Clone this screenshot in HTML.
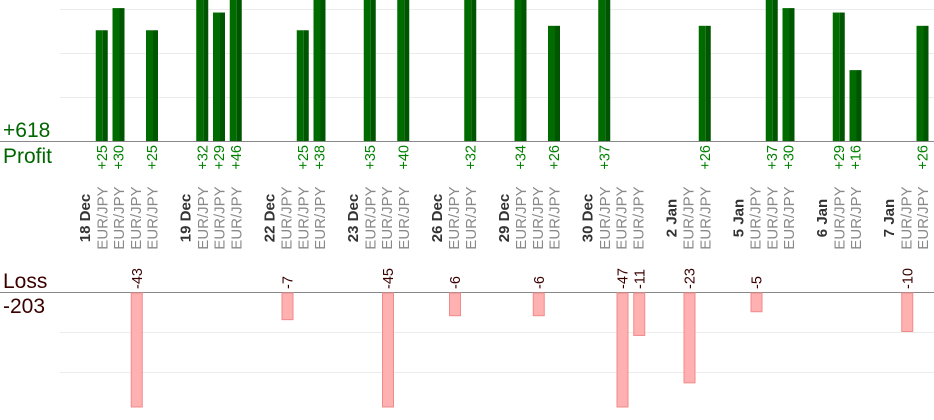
<!DOCTYPE html>
<html><head><meta charset="utf-8"><style>
html,body{margin:0;padding:0;background:#fff}
svg{display:block;font-family:"Liberation Sans",Arial,sans-serif}
</style></head><body>
<svg width="934" height="420" viewBox="0 0 934 420" xmlns="http://www.w3.org/2000/svg">
<g stroke="#ececec" stroke-width="1">
<line x1="60" y1="9.5" x2="934" y2="9.5"/><line x1="60" y1="53.5" x2="934" y2="53.5"/><line x1="60" y1="97.5" x2="934" y2="97.5"/>
<line x1="60" y1="332.5" x2="934" y2="332.5"/><line x1="60" y1="372.5" x2="934" y2="372.5"/>
</g>
<line x1="0" y1="141.5" x2="934" y2="141.5" stroke="#888"/>
<line x1="0" y1="292.5" x2="934" y2="292.5" stroke="#888"/>
<text x="3" y="137" font-size="21" fill="#006600">+618</text>
<text x="3" y="163" font-size="21" fill="#006600">Profit</text>
<text x="3" y="288" font-size="21" fill="#3a0000">Loss</text>
<text x="3" y="313" font-size="21" fill="#3a0000">-203</text>
</svg>
<script>
(function(){
var svg=document.querySelector('svg'),NS='http://www.w3.org/2000/svg';
function c(i){return 85+16.75*i}
function el(t,a,txt){var e=document.createElementNS(NS,t);for(var k in a)e.setAttribute(k,a[k]);if(txt!=null)e.textContent=txt;svg.appendChild(e);return e}
var dates=[[0,'18 Dec'],[6,'19 Dec'],[11,'22 Dec'],[16,'23 Dec'],[21,'26 Dec'],[25,'29 Dec'],[30,'30 Dec'],[35,'2 Jan'],[39,'5 Jan'],[44,'6 Jan'],[48,'7 Jan']];
var trades=[1,2,3,4,7,8,9,12,13,14,17,18,19,22,23,26,27,28,31,32,33,36,37,40,41,42,45,46,49,50];
var prof={1:25,2:30,4:25,7:32,8:29,9:46,13:25,14:38,17:35,19:40,23:32,26:34,28:26,31:37,37:26,41:37,42:30,45:29,46:16,50:26};
var loss={3:43,12:7,18:45,22:6,27:6,32:47,33:11,36:23,40:5,49:10};
dates.forEach(function(d){var x=c(d[0])+5;el('text',{x:x,y:218,'font-size':15,'font-weight':'bold',fill:'#333','text-anchor':'middle',transform:'rotate(-90 '+x+' 218)'},d[1])});
trades.forEach(function(i){var x=c(i)+5.5;el('text',{x:x,y:218,'font-size':15,fill:'#888','text-anchor':'middle',transform:'rotate(-90 '+x+' 218)'},'EUR/JPY')});
for(var i in prof){var v=prof[i],yt=Math.max(0,141-v*4.43),x=c(+i);
el('rect',{x:x-6,y:yt,width:7,height:141-yt,fill:'#006c00'});
el('rect',{x:x+1,y:yt,width:5,height:141-yt,fill:'#005500'});
var tx=x+5;el('text',{x:tx,y:145,'font-size':14.5,fill:'#008000','text-anchor':'end',transform:'rotate(-90 '+tx+' 145)'},'+'+v);}
for(var i in loss){var v=loss[i],bot=Math.min(407,292+v*3.95),x=c(+i)+1.5;
el('rect',{x:x-5.5,y:293,width:11,height:bot-293,fill:'#ffb0b0',stroke:'#f28a8a','stroke-width':1});
var tx=x+5;el('text',{x:tx,y:289,'font-size':14.5,fill:'#3a0000','text-anchor':'start',transform:'rotate(-90 '+tx+' 289)'},'-'+v);}
})();
</script>
</body></html>
